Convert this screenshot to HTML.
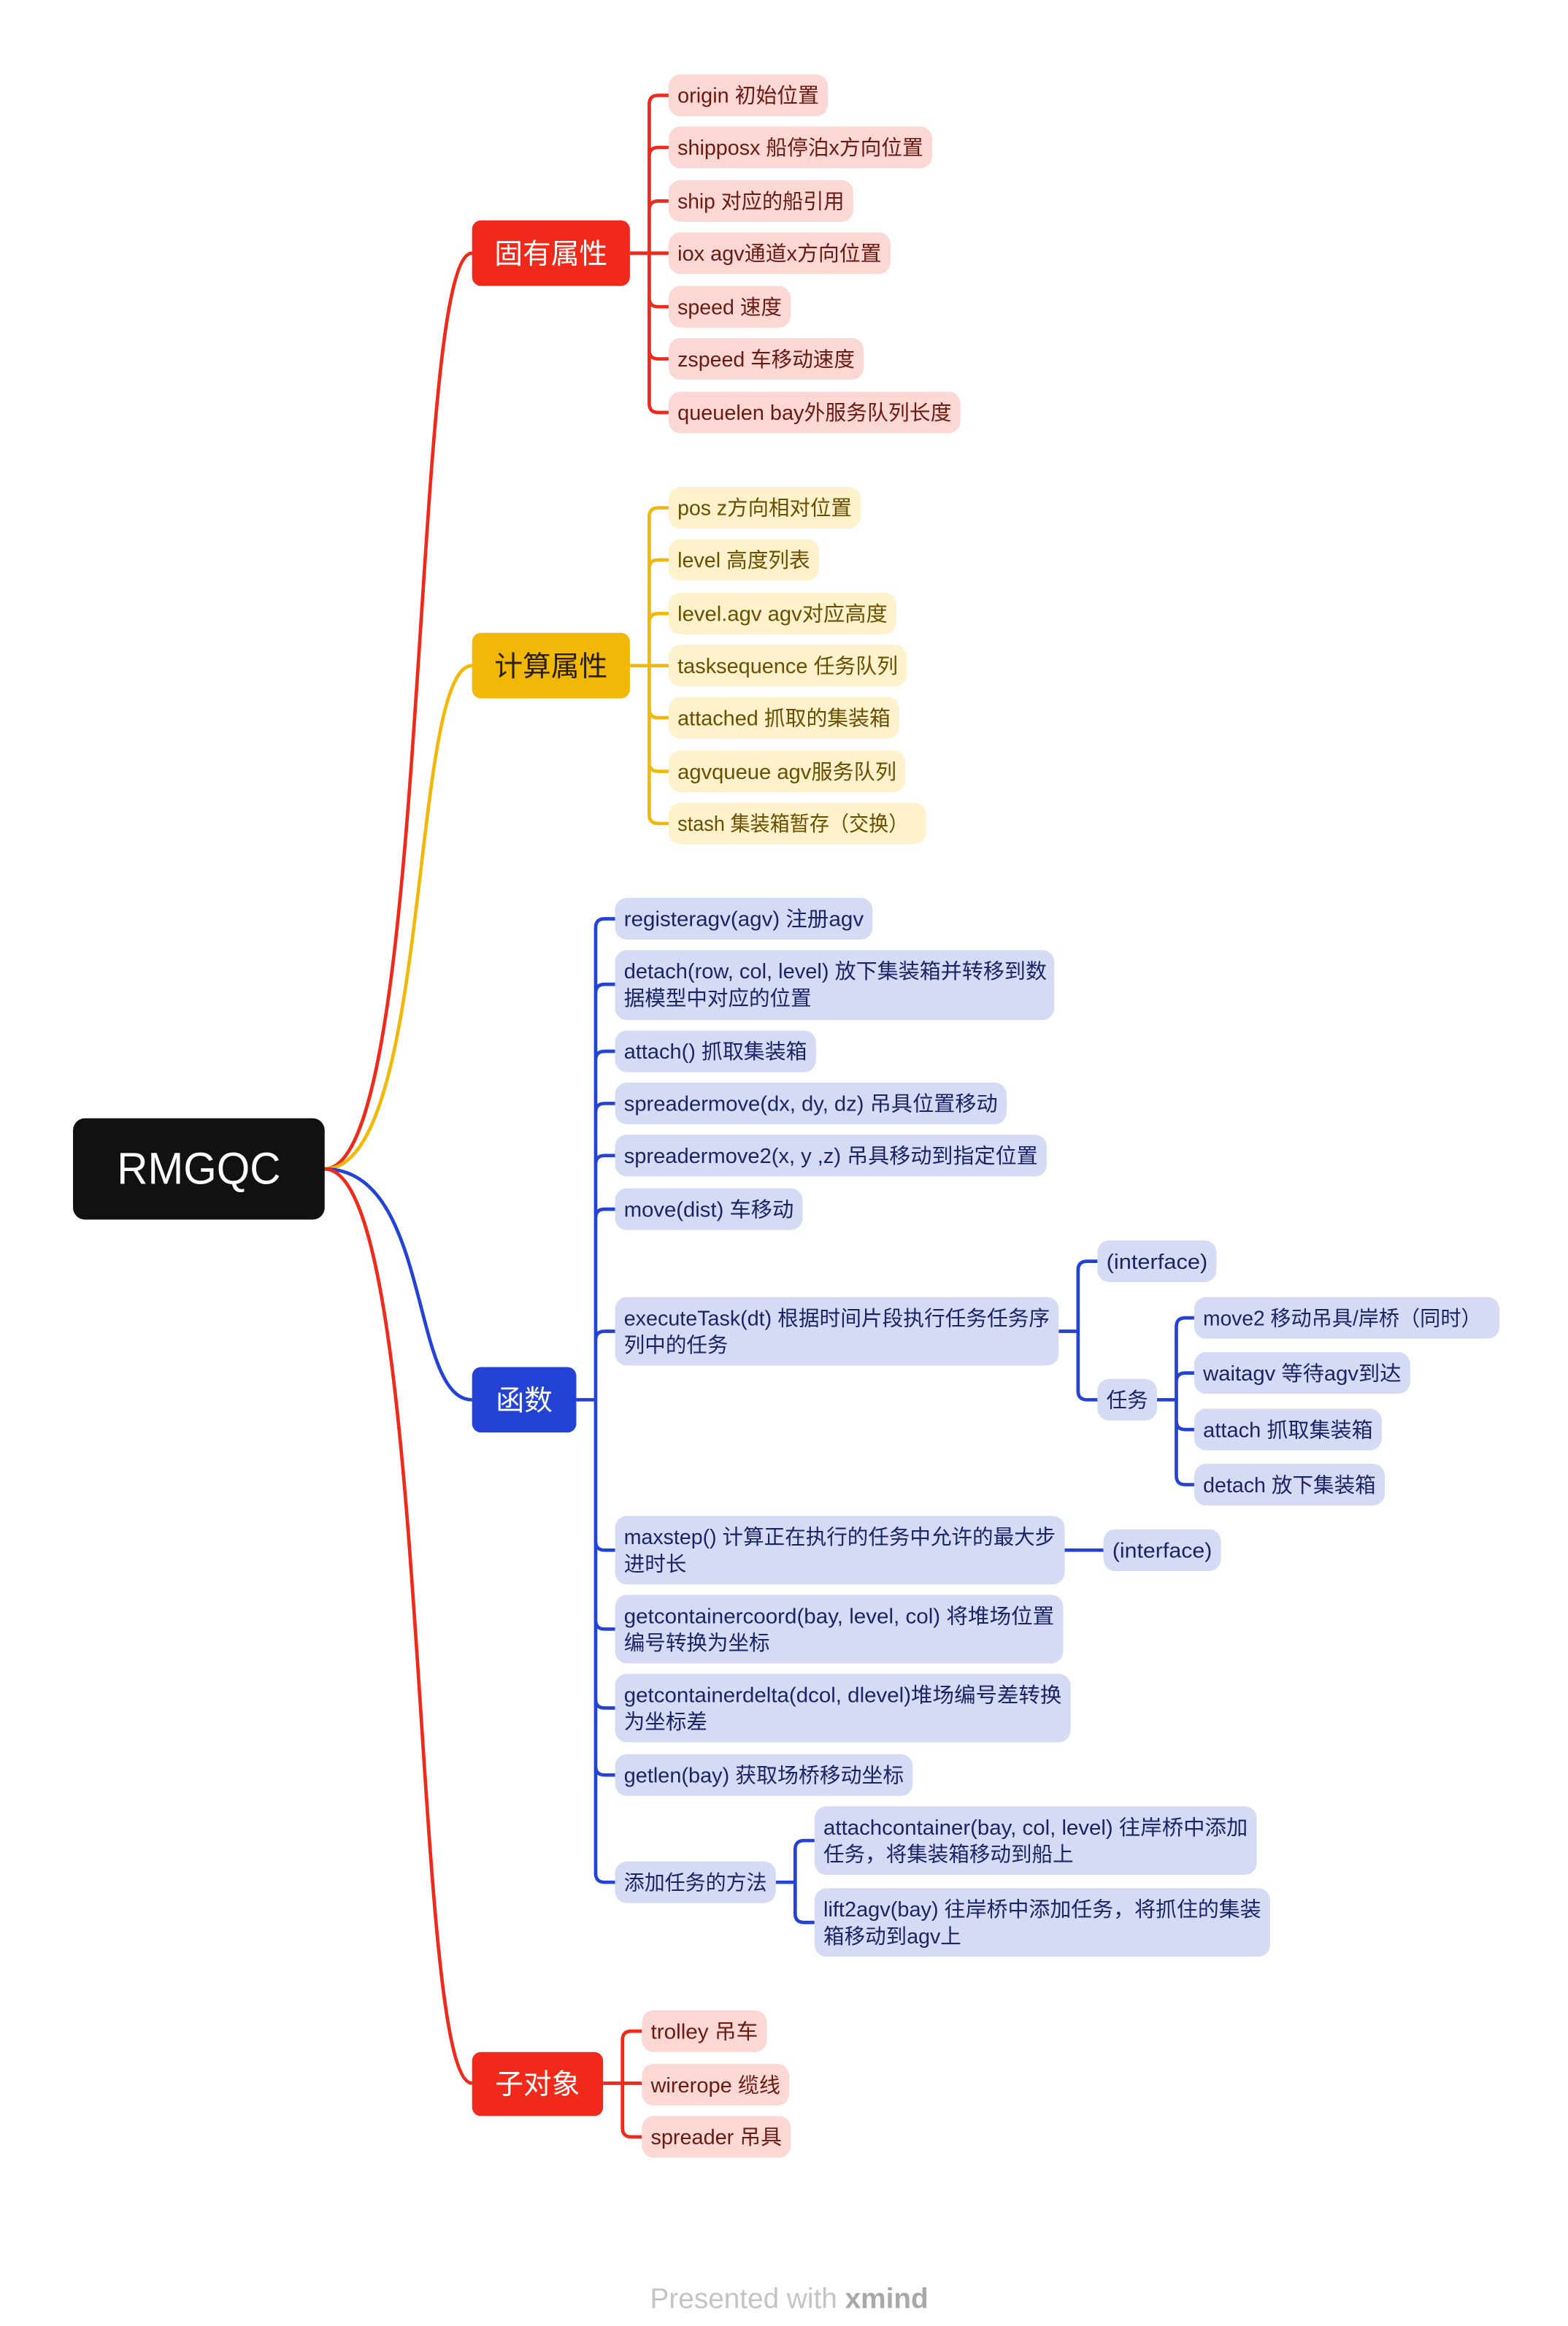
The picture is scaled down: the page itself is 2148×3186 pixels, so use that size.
<!DOCTYPE html>
<html><head><meta charset="utf-8"><style>
html,body{margin:0;padding:0;background:#fff;}
svg{display:block;}
text{font-family:"Liberation Sans","Noto Sans CJK SC",sans-serif;}
.r rect{fill:#FCD8D4}.r text{fill:#6B1A12;font-size:14px}
.y rect{fill:#FDF2CC}.y text{fill:#6B4F00;font-size:14px}
.b rect{fill:#D6DBF5}.b text{fill:#1A2466;font-size:14px}
.cr{stroke:#F0291A;fill:none;stroke-width:2.3}
.cy{stroke:#F2B807;fill:none;stroke-width:2.3}
.cb{stroke:#2342D6;fill:none;stroke-width:2.3}
.m text{fill:#fff;font-size:19px}
</style></head><body>
<svg width="2148" height="3186" viewBox="0 0 1053 1562" xmlns="http://www.w3.org/2000/svg">
<!-- main curves -->
<path class="cr" d="M218 785 C290 785 275 170 317 170"/>
<path class="cy" d="M218 785 C290 785 275 447 317 447"/>
<path class="cb" d="M218 785 C290 785 275 940 317 940"/>
<path class="cr" d="M218 785 C290 785 275 1399 317 1399"/>
<!-- root -->
<rect x="49" y="751" width="169" height="68" rx="8" fill="#111"/>
<text x="133.5" y="795" text-anchor="middle" fill="#fff" font-size="30" textLength="110" lengthAdjust="spacingAndGlyphs">RMGQC</text>

<!-- red group 1 -->
<path class="cr" d="M423 170 H436 M436 170 V70 Q436 64 442 64 H449 M436 105 Q436 99 442 99 H449 M436 141 Q436 135 442 135 H449 M436 170 H449 M436 170 V271 Q436 277 442 277 H449 M436 200 Q436 206 442 206 H449 M436 235 Q436 241 442 241 H449"/>
<g class="m"><rect x="317" y="148" width="106" height="44" rx="6" fill="#F0291A"/><text x="370" y="177" text-anchor="middle">固有属性</text></g>
<g class="r">
<rect x="449" y="50" width="107" height="28" rx="8"/><text x="455" y="69" textLength="95" lengthAdjust="spacingAndGlyphs">origin 初始位置</text>
<rect x="449" y="85" width="177" height="28" rx="8"/><text x="455" y="104" textLength="165" lengthAdjust="spacingAndGlyphs">shipposx 船停泊x方向位置</text>
<rect x="449" y="121" width="124" height="28" rx="8"/><text x="455" y="140" textLength="112" lengthAdjust="spacingAndGlyphs">ship 对应的船引用</text>
<rect x="449" y="156" width="149" height="28" rx="8"/><text x="455" y="175" textLength="137" lengthAdjust="spacingAndGlyphs">iox agv通道x方向位置</text>
<rect x="449" y="192" width="82" height="28" rx="8"/><text x="455" y="211" textLength="70" lengthAdjust="spacingAndGlyphs">speed 速度</text>
<rect x="449" y="227" width="131" height="28" rx="8"/><text x="455" y="246" textLength="119" lengthAdjust="spacingAndGlyphs">zspeed 车移动速度</text>
<rect x="449" y="263" width="196" height="28" rx="8"/><text x="455" y="282" textLength="184" lengthAdjust="spacingAndGlyphs">queuelen bay外服务队列长度</text>
</g>

<!-- yellow group -->
<path class="cy" d="M423 447 H436 M436 447 V347 Q436 341 442 341 H449 M436 382 Q436 376 442 376 H449 M436 418 Q436 412 442 412 H449 M436 447 H449 M436 447 V547 Q436 553 442 553 H449 M436 476 Q436 482 442 482 H449 M436 512 Q436 518 442 518 H449"/>
<g class="m"><rect x="317" y="425" width="106" height="44" rx="6" fill="#F2B807"/><text x="370" y="454" text-anchor="middle" fill="#333" style="fill:#2a2000">计算属性</text></g>
<g class="y">
<rect x="449" y="327" width="129" height="28" rx="8"/><text x="455" y="346" textLength="117" lengthAdjust="spacingAndGlyphs">pos z方向相对位置</text>
<rect x="449" y="362" width="101" height="28" rx="8"/><text x="455" y="381" textLength="89" lengthAdjust="spacingAndGlyphs">level 高度列表</text>
<rect x="449" y="398" width="153" height="28" rx="8"/><text x="455" y="417" textLength="141" lengthAdjust="spacingAndGlyphs">level.agv agv对应高度</text>
<rect x="449" y="433" width="160" height="28" rx="8"/><text x="455" y="452" textLength="148" lengthAdjust="spacingAndGlyphs">tasksequence 任务队列</text>
<rect x="449" y="468" width="155" height="28" rx="8"/><text x="455" y="487" textLength="143" lengthAdjust="spacingAndGlyphs">attached 抓取的集装箱</text>
<rect x="449" y="504" width="159" height="28" rx="8"/><text x="455" y="523" textLength="147" lengthAdjust="spacingAndGlyphs">agvqueue agv服务队列</text>
<rect x="449" y="539" width="173" height="28" rx="8"/><text x="455" y="558" textLength="155" lengthAdjust="spacingAndGlyphs">stash 集装箱暂存（交换）</text>
</g>

<!-- blue group -->
<path class="cb" d="M387 940 H400 M400 940 V623 Q400 617 406 617 H413 M400 667 Q400 661 406 661 H413 M400 712 Q400 706 406 706 H413 M400 747 Q400 741 406 741 H413 M400 782 Q400 776 406 776 H413 M400 818 Q400 812 406 812 H413 M400 900 Q400 894 406 894 H413 M400 940 V1258 Q400 1264 406 1264 H413 M400 1035 Q400 1041 406 1041 H413 M400 1088 Q400 1094 406 1094 H413 M400 1141 Q400 1147 406 1147 H413 M400 1186 Q400 1192 406 1192 H413"/>
<path class="cb" d="M711 894 H724 M724 894 V853 Q724 847 730 847 H737 M724 894 V934 Q724 940 730 940 H737"/>
<path class="cb" d="M777 940 H790 M790 940 V891 Q790 885 796 885 H802 M790 928 Q790 922 796 922 H802 M790 940 V991 Q790 997 796 997 H802 M790 954 Q790 960 796 960 H802"/>
<path class="cb" d="M715 1041 H741"/>
<path class="cb" d="M521 1264 H534 M534 1264 V1242 Q534 1236 540 1236 H547 M534 1264 V1285 Q534 1291 540 1291 H547"/>
<g class="m"><rect x="317" y="918" width="70" height="44" rx="6" fill="#2342D6"/><text x="352" y="947" text-anchor="middle">函数</text></g>
<g class="b">
<rect x="413" y="603" width="173" height="28" rx="8"/><text x="419" y="622" textLength="161" lengthAdjust="spacingAndGlyphs">registeragv(agv) 注册agv</text>
<rect x="413" y="638" width="295" height="47" rx="8"/><text x="419" y="657" textLength="284" lengthAdjust="spacingAndGlyphs">detach(row, col, level) 放下集装箱并转移到数</text><text x="419" y="675">据模型中对应的位置</text>
<rect x="413" y="692" width="135" height="28" rx="8"/><text x="419" y="711" textLength="123" lengthAdjust="spacingAndGlyphs">attach() 抓取集装箱</text>
<rect x="413" y="727" width="263" height="28" rx="8"/><text x="419" y="746" textLength="251" lengthAdjust="spacingAndGlyphs">spreadermove(dx, dy, dz) 吊具位置移动</text>
<rect x="413" y="762" width="290" height="28" rx="8"/><text x="419" y="781" textLength="278" lengthAdjust="spacingAndGlyphs">spreadermove2(x, y ,z) 吊具移动到指定位置</text>
<rect x="413" y="798" width="126" height="28" rx="8"/><text x="419" y="817" textLength="114" lengthAdjust="spacingAndGlyphs">move(dist) 车移动</text>
<rect x="413" y="871" width="298" height="46" rx="8"/><text x="419" y="890" textLength="286" lengthAdjust="spacingAndGlyphs">executeTask(dt) 根据时间片段执行任务任务序</text><text x="419" y="908">列中的任务</text>
<rect x="737" y="833" width="80" height="28" rx="8"/><text x="743" y="852" textLength="68" lengthAdjust="spacingAndGlyphs">(interface)</text>
<rect x="737" y="926" width="40" height="28" rx="8"/><text x="743" y="945" textLength="28" lengthAdjust="spacingAndGlyphs">任务</text>
<rect x="802" y="871" width="205" height="28" rx="8"/><text x="808" y="890" textLength="187" lengthAdjust="spacingAndGlyphs">move2 移动吊具/岸桥（同时）</text>
<rect x="802" y="908" width="145" height="28" rx="8"/><text x="808" y="927" textLength="133" lengthAdjust="spacingAndGlyphs">waitagv 等待agv到达</text>
<rect x="802" y="946" width="126" height="28" rx="8"/><text x="808" y="965" textLength="114" lengthAdjust="spacingAndGlyphs">attach 抓取集装箱</text>
<rect x="802" y="983" width="128" height="28" rx="8"/><text x="808" y="1002" textLength="116" lengthAdjust="spacingAndGlyphs">detach 放下集装箱</text>
<rect x="413" y="1018" width="302" height="46" rx="8"/><text x="419" y="1037" textLength="290" lengthAdjust="spacingAndGlyphs">maxstep() 计算正在执行的任务中允许的最大步</text><text x="419" y="1055">进时长</text>
<rect x="741" y="1027" width="79" height="28" rx="8"/><text x="747" y="1046" textLength="67" lengthAdjust="spacingAndGlyphs">(interface)</text>
<rect x="413" y="1071" width="301" height="46" rx="8"/><text x="419" y="1090" textLength="289" lengthAdjust="spacingAndGlyphs">getcontainercoord(bay, level, col) 将堆场位置</text><text x="419" y="1108">编号转换为坐标</text>
<rect x="413" y="1124" width="306" height="46" rx="8"/><text x="419" y="1143" textLength="294" lengthAdjust="spacingAndGlyphs">getcontainerdelta(dcol, dlevel)堆场编号差转换</text><text x="419" y="1161">为坐标差</text>
<rect x="413" y="1178" width="200" height="28" rx="8"/><text x="419" y="1197" textLength="188" lengthAdjust="spacingAndGlyphs">getlen(bay) 获取场桥移动坐标</text>
<rect x="413" y="1250" width="108" height="28" rx="8"/><text x="419" y="1269" textLength="96" lengthAdjust="spacingAndGlyphs">添加任务的方法</text>
<rect x="547" y="1213" width="297" height="46" rx="8"/><text x="553" y="1232" textLength="285" lengthAdjust="spacingAndGlyphs">attachcontainer(bay, col, level) 往岸桥中添加</text><text x="553" y="1250">任务，将集装箱移动到船上</text>
<rect x="547" y="1268" width="306" height="46" rx="8"/><text x="553" y="1287" textLength="294" lengthAdjust="spacingAndGlyphs">lift2agv(bay) 往岸桥中添加任务，将抓住的集装</text><text x="553" y="1305">箱移动到agv上</text>
</g>

<!-- red group 2 -->
<path class="cr" d="M405 1399 H418 M418 1399 V1370 Q418 1364 424 1364 H431 M418 1399 H431 M418 1399 V1429 Q418 1435 424 1435 H431"/>
<g class="m"><rect x="317" y="1378" width="88" height="43" rx="6" fill="#F0291A"/><text x="361" y="1406" text-anchor="middle">子对象</text></g>
<g class="r">
<rect x="431" y="1350" width="84" height="28" rx="8"/><text x="437" y="1369" textLength="72" lengthAdjust="spacingAndGlyphs">trolley 吊车</text>
<rect x="431" y="1386" width="99" height="28" rx="8"/><text x="437" y="1405" textLength="87" lengthAdjust="spacingAndGlyphs">wirerope 缆线</text>
<rect x="431" y="1421" width="100" height="28" rx="8"/><text x="437" y="1440" textLength="88" lengthAdjust="spacingAndGlyphs">spreader 吊具</text>
</g>

<text x="530" y="1550" text-anchor="middle" font-size="19" fill="#c4c4c4">Presented with <tspan font-weight="bold" fill="#a8a8a8">xmind</tspan></text>
</svg>
</body></html>
